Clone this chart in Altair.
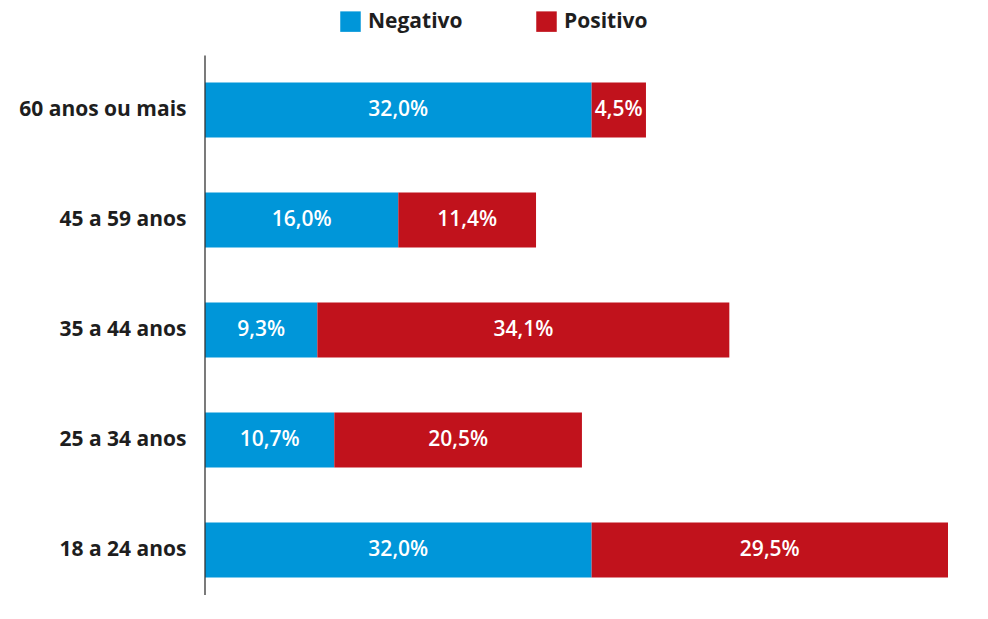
import altair as alt
import pandas as pd

grupos = ["60 anos ou mais", "45 a 59 anos", "35 a 44 anos", "25 a 34 anos", "18 a 24 anos"]
negativo = [32.0, 16.0, 9.3, 10.7, 32.0]
positivo = [4.5, 11.4, 34.1, 20.5, 29.5]
series = ["Negativo", "Positivo"]
cores = ["#0096D9", "#C1121C"]

rows = []
for g, n, p in zip(grupos, negativo, positivo):
    rows.append({"grupo": g, "serie": "Negativo", "valor": n, "ordem": 0})
    rows.append({"grupo": g, "serie": "Positivo", "valor": p, "ordem": 1})
df = pd.DataFrame(rows)

FONT = "Open Sans"

y_enc = alt.Y("grupo:N", sort=grupos, title=None,
              scale=alt.Scale(paddingInner=0.5, paddingOuter=0.25),
              axis=alt.Axis(domain=False, ticks=False, labelFont=FONT, labelFontSize=21,
                            labelFontWeight="bold", labelColor="#1e1e1e", labelPadding=19,
                            labelLimit=300))
x_scale = alt.Scale(domain=[0, 61.5], nice=False, zero=True)

bars = alt.Chart(df).mark_bar(cornerRadius=0).encode(
    y=y_enc,
    x=alt.X("valor:Q", stack="zero", scale=x_scale, axis=None),
    color=alt.Color("serie:N", scale=alt.Scale(domain=series, range=cores),
                    legend=alt.Legend(title=None, orient="none", direction="horizontal",
                                      legendX=135, legendY=-44, padding=0,
                                      symbolType="square", symbolSize=420,
                                      symbolStrokeWidth=0, symbolOpacity=1,
                                      labelFont=FONT, labelFontSize=21, labelFontWeight="bold",
                                      labelColor="#1e1e1e", labelOffset=7,
                                      columnPadding=73, labelLimit=200)),
    order=alt.Order("ordem:Q", sort="ascending"),
)

labels = alt.Chart(df).transform_window(
    cum="sum(valor)", groupby=["grupo"], sort=[alt.SortField("ordem", order="ascending")]
).transform_calculate(
    meio="datum.cum - datum.valor / 2",
    rotulo="replace(format(datum.valor, '.1f'), '.', ',') + '%'"
).mark_text(font=FONT, fontSize=21, fontWeight=600, color="white", baseline="middle", align="center").encode(
    y=alt.Y("grupo:N", sort=grupos),
    x=alt.X("meio:Q", scale=x_scale),
    text="rotulo:N",
)

axis_line = alt.Chart(pd.DataFrame({"a": [0]})).mark_rule(color="#333333", strokeWidth=1.3).encode(
    x=alt.value(0), y=alt.value(0.5), y2=alt.value(540)
)

chart = alt.layer(bars, labels, axis_line).properties(
    width=743, height=550,
    autosize=alt.AutoSizeParams(type="none"),
    padding={"left": 197, "top": 47, "right": 30, "bottom": 5},
).configure(background="white").configure_view(strokeWidth=0, stroke="transparent")

chart.save("out.html", embed_options={"renderer": "svg", "actions": False})
